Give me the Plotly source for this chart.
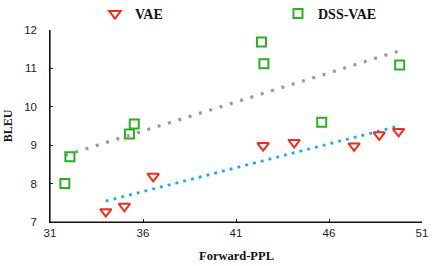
import numpy as np
import plotly.graph_objects as go

vae_ppl = [34.0, 35.0, 36.55, 42.46, 44.13, 47.35, 48.7, 49.74]
vae_bleu = [7.27, 7.41, 8.19, 8.99, 9.07, 8.98, 9.27, 9.36]
dss_ppl = [31.8, 32.07, 35.27, 35.53, 42.37, 42.5, 45.61, 49.8]
dss_bleu = [8.0, 8.70, 9.29, 9.55, 11.69, 11.12, 9.60, 11.09]
x_ticks = [31, 36, 41, 46, 51]
y_ticks = [7, 8, 9, 10, 11, 12]


def trend(xs, ys):
    k, b = np.polyfit(xs, ys, 1)
    x0, x1 = min(xs), max(xs)
    return [x0, x1], [k * x0 + b, k * x1 + b]


fig = go.Figure()
tx, ty = trend(dss_ppl, dss_bleu)
fig.add_trace(go.Scatter(x=tx, y=ty, mode="lines", showlegend=False, hoverinfo="skip",
                         line=dict(color="#9a9a9a", width=3.2, dash="3px,7.8px")))
tx, ty = trend(vae_ppl, vae_bleu)
fig.add_trace(go.Scatter(x=tx, y=ty, mode="lines", showlegend=False, hoverinfo="skip",
                         line=dict(color="#1aa6f5", width=2.8, dash="2.8px,5.2px")))
fig.add_trace(go.Scatter(x=vae_ppl, y=vae_bleu, mode="markers", name="<b>VAE</b>",
                         legend="legend",
                         marker=dict(symbol="triangle-down-open", size=10, color="#f22b1b",
                                     line=dict(width=2, color="#f22b1b"))))
fig.add_trace(go.Scatter(x=dss_ppl, y=dss_bleu, mode="markers", name="<b>DSS-VAE</b>",
                         legend="legend2",
                         marker=dict(symbol="square-open", size=9, color="#27b024",
                                     line=dict(width=2, color="#27b024"))))

axis_common = dict(showgrid=False, zeroline=False, showline=True, linecolor="#111111",
                   linewidth=1.2, ticks="inside", ticklen=3, tickwidth=1, tickcolor="#222222",
                   automargin=False,
                   tickfont=dict(family="Liberation Sans, Arial", size=11.5, color="#222222"))
fig.update_xaxes(range=[31, 51], tickvals=x_ticks, ticktext=[str(v) for v in x_ticks],
                 **axis_common)
fig.update_yaxes(range=[7, 12], tickvals=y_ticks,
                 ticktext=[str(v) + "\u00a0\u00a0\u00a0" for v in y_ticks],
                 **axis_common)

# axis frame (left and bottom) reinforced as paper-referenced lines
fig.add_shape(type="line", xref="paper", yref="paper", x0=0, x1=0, y0=0, y1=1,
              line=dict(color="#111111", width=1.2), layer="above")
fig.add_shape(type="line", xref="paper", yref="paper", x0=0, x1=1, y0=0, y1=0,
              line=dict(color="#111111", width=1.2), layer="above")

fig.add_annotation(text="<b>Forward-PPL</b>", xref="paper", yref="paper", x=0.5, y=-0.175,
                   yanchor="middle", showarrow=False,
                   font=dict(family="Liberation Serif, Times New Roman", size=12.5, color="#111111"))
fig.add_annotation(text="<b>BLEU</b>", xref="paper", yref="paper", x=-0.112, y=0.5,
                   xanchor="center", yanchor="middle", textangle=-90, showarrow=False,
                   font=dict(family="Liberation Serif, Times New Roman", size=12, color="#111111"))

leg_common = dict(orientation="h", yanchor="middle", xanchor="left", bgcolor="rgba(0,0,0,0)",
                  xref="container", yref="container",
                  font=dict(family="Liberation Serif, Times New Roman", size=14, color="#111111"))
fig.update_layout(
    width=436, height=266,
    margin=dict(l=50, r=14, t=29, b=44),
    plot_bgcolor="white", paper_bgcolor="white",
    showlegend=True,
    legend=dict(x=95 / 436, y=1 - 14 / 266, **leg_common),
    legend2=dict(x=278 / 436, y=1 - 14 / 266, **leg_common),
)

fig.write_html("out.html", config={"displayModeBar": False},
               post_script="document.body.style.margin='0';")
